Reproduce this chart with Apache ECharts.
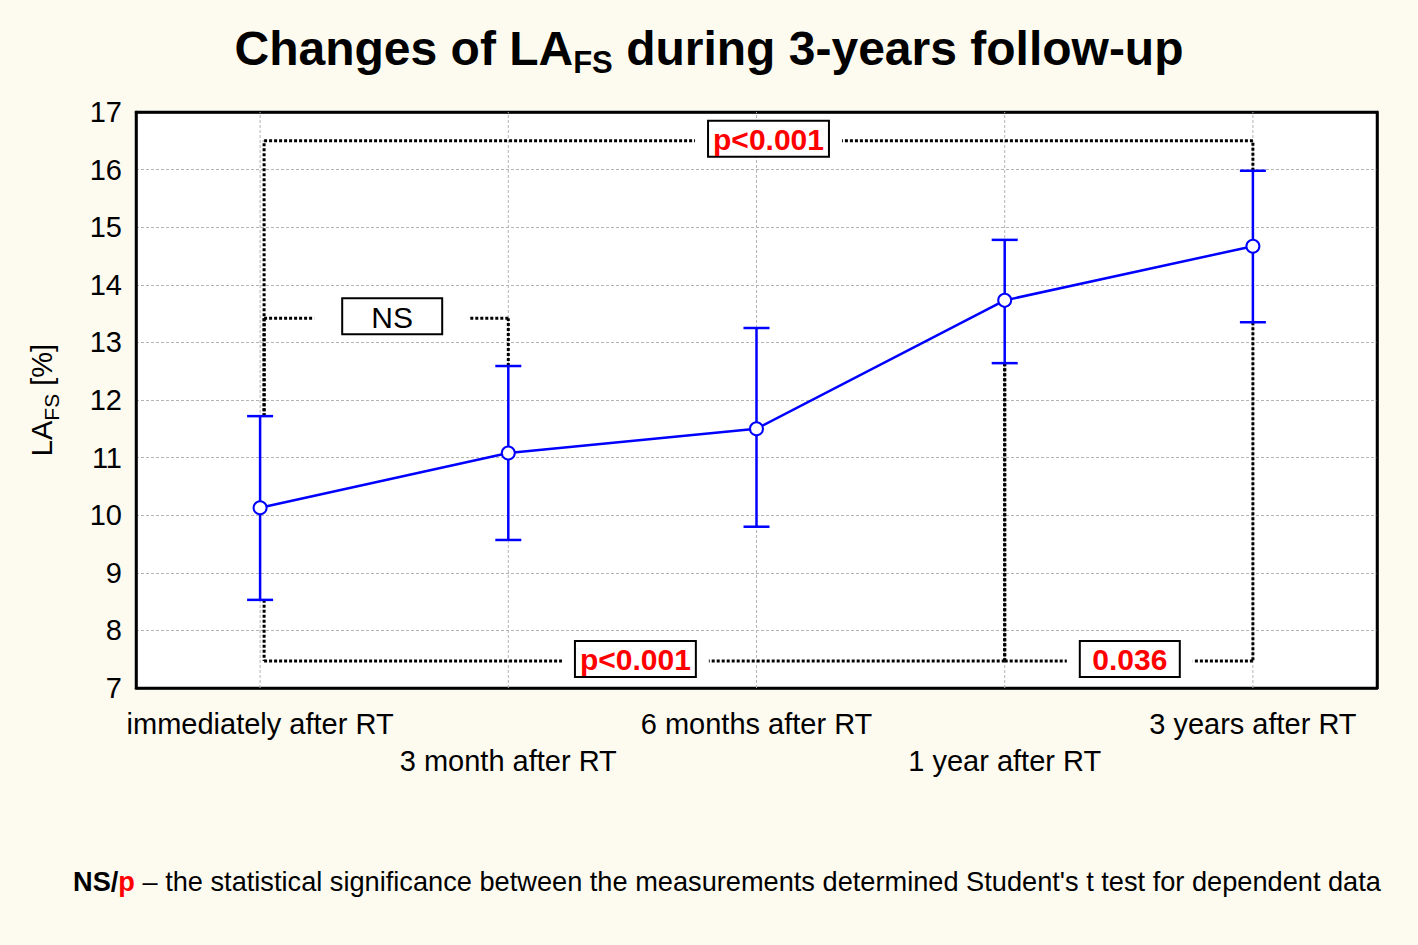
<!DOCTYPE html>
<html><head><meta charset="utf-8">
<script src="https://cdn.jsdelivr.net/npm/echarts@6/dist/echarts.min.js"></script>
<style>html,body{margin:0;padding:0;background:#FDFBF0}#c{width:1418px;height:945px}</style>
</head><body><div id="c"></div>
<script>
// ---- data ----
const categories = ['immediately after RT', '3 month after RT', '6 months after RT', '1 year after RT', '3 years after RT'];
const meanValues = [10.13, 11.08, 11.50, 13.73, 14.67];
const upperValues = [11.72, 12.59, 13.25, 14.78, 15.98];
const lowerValues = [8.53, 9.57, 9.80, 12.64, 13.35];
const yMin = 7, yMax = 17, yStep = 1;
// significance brackets
const bracketFrom = [0, 0, 0, 3];
const bracketTo = [4, 1, 3, 4];
const bracketLevel = [16.5, 13.42, 7.47, 7.47];
const bracketSide = ['upper', 'upper', 'lower', 'lower'];
const bracketLabels = ['p<0.001', 'NS', 'p<0.001', '0.036'];
const footnoteText = ' \u2013 the statistical significance between the measurements determined Student\'s t test for dependent data';

// ---- rendering ----
const FF = '"Liberation Sans", Arial, Helvetica, sans-serif';
const chart = echarts.init(document.getElementById('c'), null, {renderer: 'svg'});
const mctx = document.createElement('canvas').getContext('2d');
function measure(t, f) { mctx.font = f; return mctx.measureText(t).width; }

function renderGridV(params, api) {
  const i = api.value(0);
  const a = api.coord([i, yMin]), b = api.coord([i, yMax]);
  return {type: 'line', shape: {x1: a[0], y1: a[1], x2: b[0], y2: b[1]},
    style: {stroke: '#b4b4b4', lineWidth: 1, lineDash: [3, 2]}};
}

function renderErr(params, api) {
  const i = api.value(0);
  const top = api.coord([i, api.value(2)]);
  const bot = api.coord([i, api.value(1)]);
  const hw = 13;
  const st = {stroke: '#0000ff', lineWidth: 2.5};
  return {type: 'group', children: [
    {type: 'line', shape: {x1: top[0], y1: top[1], x2: bot[0], y2: bot[1]}, style: st},
    {type: 'line', shape: {x1: top[0] - hw, y1: top[1], x2: top[0] + hw, y2: top[1]}, style: st},
    {type: 'line', shape: {x1: bot[0] - hw, y1: bot[1], x2: bot[0] + hw, y2: bot[1]}, style: st}
  ]};
}

function renderBracket(params, api) {
  const i = params.dataIndex;
  const a = bracketFrom[i], b = bracketTo[i], lv = bracketLevel[i];
  const isUpper = bracketSide[i] === 'upper';
  const ends = isUpper ? upperValues : lowerValues;
  const pA = api.coord([a, ends[a]]);
  const pB = api.coord([b, ends[b]]);
  const yL = api.coord([a, lv])[1];
  const xA = pA[0] + (a === 0 ? 4 : 0), xB = pB[0];
  const isNS = bracketLabels[i] === 'NS';
  const cx = (xA + xB) / 2 + (isNS ? 6 : (isUpper ? 10 : 1));
  const font = (isNS ? 'normal ' : 'bold ') + '30px ' + FF;
  const tw = measure(bracketLabels[i], font);
  const bw = Math.max(tw + 10, 100);
  const bh = 36;
  const gap = isNS ? 28 : 13;
  const ls = {stroke: '#000', lineWidth: 3, lineDash: [3, 2], fill: null};
  const seg = (x1, y1, x2, y2) => ({type: 'line', shape: {x1, y1, x2, y2}, style: ls});
  return {type: 'group', children: [
    seg(xA, pA[1], xA, yL),
    seg(xB, pB[1], xB, yL),
    seg(xA, yL, cx - bw / 2 - gap, yL),
    seg(xB, yL, cx + bw / 2 + gap, yL),
    {type: 'rect', shape: {x: cx - bw / 2, y: yL - bh / 2 - 2, width: bw, height: bh}, style: {fill: '#fff', stroke: '#000', lineWidth: 2}},
    {type: 'text', style: {text: bracketLabels[i], x: cx, y: yL - 1, align: 'center', verticalAlign: 'middle',
      fill: isNS ? '#000' : '#ff0000', font: font}}
  ]};
}

const axisLabelStyle = {color: '#000', fontSize: 29, fontFamily: FF};
const tickStyle = {inside: true, length: 7, lineStyle: {color: '#000', width: 2}};

chart.setOption({
  backgroundColor: '#FDFBF0',
  animation: false,
  title: {
    text: '{a|Changes of LA}{s|FS}{a| during 3-years follow-up}',
    left: 'center', top: 18, padding: 0,
    textStyle: {rich: {
      a: {fontSize: 48, fontWeight: 'bold', fontFamily: FF, color: '#000', lineHeight: 60},
      s: {fontSize: 31, fontWeight: 'bold', fontFamily: FF, color: '#000', lineHeight: 32, verticalAlign: 'bottom'}
    }}
  },
  grid: {left: 136, right: 41, top: 112, bottom: 257, show: true, backgroundColor: '#fff', borderColor: '#000', borderWidth: 2.5},
  xAxis: [
    {type: 'category', data: categories, position: 'bottom', boundaryGap: true,
      axisLine: {lineStyle: {color: '#000', width: 2.5}},
      axisTick: Object.assign({alignWithLabel: true}, tickStyle),
      axisLabel: Object.assign({interval: 0, margin: 17, lineHeight: 37,
        formatter: (v, i) => (i % 2 ? '\n' + v : v)}, axisLabelStyle),
      splitLine: {show: false}},
    {type: 'category', data: categories, position: 'top', boundaryGap: true,
      axisLine: {lineStyle: {color: '#000', width: 2.5}},
      axisTick: Object.assign({alignWithLabel: true}, tickStyle),
      axisLabel: {show: false}, splitLine: {show: false}}
  ],
  yAxis: [
    {type: 'value', min: yMin, max: yMax, interval: yStep, position: 'left',
      axisLine: {show: true, lineStyle: {color: '#000', width: 2.5}},
      axisTick: tickStyle,
      axisLabel: Object.assign({margin: 14}, axisLabelStyle),
      splitLine: {show: true, lineStyle: {color: '#b4b4b4', width: 1, type: [3, 2]}},
      name: '{a|LA}{s|FS}{a| [%]}', nameLocation: 'middle', nameRotate: 90, nameGap: 74,
      nameTextStyle: {rich: {
        a: {fontSize: 29, fontFamily: FF, color: '#000', lineHeight: 40},
        s: {fontSize: 21, fontFamily: FF, color: '#000', lineHeight: 24, verticalAlign: 'bottom'}
      }}},
    {type: 'value', min: yMin, max: yMax, interval: yStep, position: 'right',
      axisLine: {show: true, lineStyle: {color: '#000', width: 2.5}},
      axisTick: tickStyle, axisLabel: {show: false}, splitLine: {show: false}}
  ],
  series: [
    {type: 'custom', name: 'vgrid', z: 1, silent: true, renderItem: renderGridV,
      data: categories.map((c, i) => [i]), encode: {x: 0}},
    {type: 'custom', name: 'brackets', z: 2, silent: true, renderItem: renderBracket,
      data: bracketFrom.map((f, i) => [f, bracketLevel[i]]), encode: {x: 0, y: 1}},
    {type: 'custom', name: 'errors', z: 3, silent: true, renderItem: renderErr,
      data: categories.map((c, i) => [i, lowerValues[i], upperValues[i]]), encode: {x: 0, y: [1, 2]}},
    {type: 'line', name: 'mean', z: 4, data: meanValues, symbol: 'circle', symbolSize: 13,
      showAllSymbol: true,
      lineStyle: {color: '#0000ff', width: 2.5},
      itemStyle: {color: '#fff', borderColor: '#0000ff', borderWidth: 2}}
  ],
  graphic: [{
    type: 'text', left: 73, top: 868,
    style: {
      text: '{b|NS/}{r|p}{n|' + footnoteText + '}',
      rich: {
        b: {fontSize: 27.2, fontWeight: 'bold', fontFamily: FF, fill: '#000'},
        r: {fontSize: 27.2, fontWeight: 'bold', fontFamily: FF, fill: '#ff0000'},
        n: {fontSize: 27.2, fontFamily: FF, fill: '#000'}
      }
    }
  }]
});
</script></body></html>
